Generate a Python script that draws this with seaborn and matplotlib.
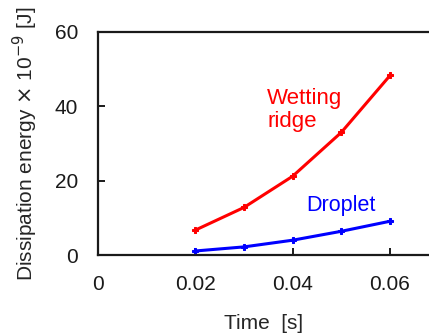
import numpy as np
import pandas as pd
import matplotlib
matplotlib.use("Agg")
import matplotlib.pyplot as plt
import seaborn as sns

# ----------------------- DATA ----------------------
time_s = [0.02, 0.03, 0.04, 0.05, 0.06]
wetting_ridge = [6.7, 12.8, 21.2, 33.0, 48.3]
droplet = [1.1, 2.2, 4.0, 6.4, 9.1]

x_ticks = [0, 0.02, 0.04, 0.06]
x_tick_labels = ["0", "0.02", "0.04", "0.06"]
y_ticks = [0, 20, 40, 60]

df = pd.DataFrame({
    "Time": time_s * 2,
    "Energy": wetting_ridge + droplet,
    "Series": ["Wetting ridge"] * len(time_s) + ["Droplet"] * len(time_s),
})

# ----------------------- PLOT ----------------------
sns.set_style("white")
plt.rcParams['font.family'] = ['Liberation Sans', 'DejaVu Sans']

fig = plt.figure(figsize=(4.29, 3.33), dpi=100)
ax = fig.add_axes([0.228, 0.234, 0.772, 0.67])

sns.lineplot(data=df, x="Time", y="Energy", hue="Series",
             palette={"Wetting ridge": "#ff0000", "Droplet": "#0000ff"},
             marker="P", markersize=5, linewidth=2.2, legend=False, ax=ax)
# markers same colour as their line
for ln in ax.lines:
    ln.set_markeredgecolor(ln.get_color())
    ln.set_markerfacecolor(ln.get_color())

ax.set_xlim(0, 0.068)
ax.set_ylim(0, 60)
ax.set_xticks(x_ticks)
ax.set_xticklabels(x_tick_labels)
ax.set_yticks(y_ticks)

for side in ["left", "top", "bottom"]:
    ax.spines[side].set_visible(True)
    ax.spines[side].set_color("#1a1a1a")
    ax.spines[side].set_linewidth(1.6)
ax.spines["right"].set_visible(False)

ax.tick_params(axis="both", direction="in", length=5, width=1.4,
               colors="#1a1a1a", labelsize=15, pad=14)
ax.tick_params(axis="x", top=False, bottom=True)
ax.tick_params(axis="y", left=True, right=False)

ax.set_xlabel("Time  [s]", fontsize=15, labelpad=15)
ax.set_ylabel("Dissipation energy $\\times$ 10$^{-9}$ [J]", fontsize=15, labelpad=11)

ax.text(0.0348, 39, "Wetting\nridge", color="#ff0000", fontsize=16,
        linespacing=1.1, va="center", ha="left")
ax.text(0.0428, 13.2, "Droplet", color="#0000ff", fontsize=15.5,
        va="center", ha="left")

fig.savefig("out.png", dpi=100)
